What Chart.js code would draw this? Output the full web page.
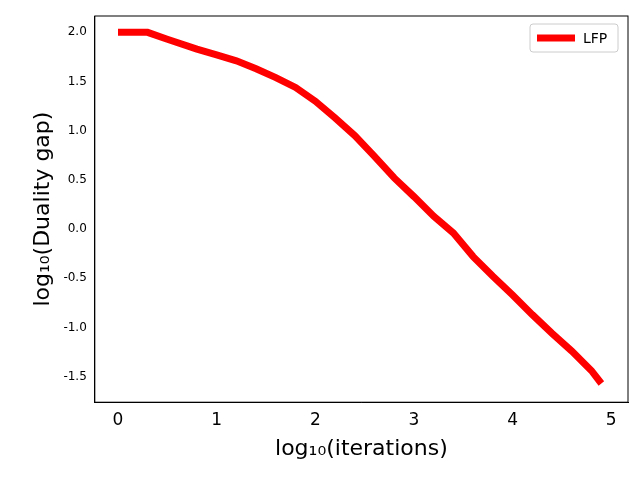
<!DOCTYPE html>
<html><head><meta charset="utf-8">
<script src="https://cdn.jsdelivr.net/npm/chart.js@4"></script>
<style>body{margin:0;background:#fff}#wrap{width:640px;height:480px}</style>
</head><body><div id="wrap"><canvas id="c"></canvas></div>
<script>
// log10(iterations) vs log10(duality gap)
const logIters = [0, 0.3, 0.5, 0.8, 1.0, 1.2, 1.4, 1.6, 1.8, 2.0, 2.2, 2.4, 2.6, 2.8, 3.0, 3.2, 3.4, 3.6, 3.8, 4.0, 4.2, 4.4, 4.6, 4.8, 4.9];
const logGap = [2.0, 2.0, 1.93, 1.83, 1.77, 1.71, 1.63, 1.54, 1.44, 1.30, 1.13, 0.95, 0.74, 0.52, 0.33, 0.13, -0.04, -0.28, -0.48, -0.67, -0.87, -1.06, -1.24, -1.44, -1.57];
const xTicks = [0, 1, 2, 3, 4, 5];
const yTicks = [-1.5, -1.0, -0.5, 0.0, 0.5, 1.0, 1.5, 2.0];

// axes box + legend in the upper right corner
const frame = {
  id: 'frame',
  afterDraw(chart) {
    const a = chart.chartArea, ctx = chart.ctx;
    ctx.save();
    ctx.strokeStyle = '#000';
    ctx.lineWidth = 1;
    ctx.strokeRect(a.left, a.top, a.right - a.left, a.bottom - a.top);
    const bx = a.right - 98, by = a.top + 8;
    ctx.fillStyle = 'rgba(255,255,255,0.8)';
    ctx.strokeStyle = '#ccc';
    ctx.beginPath();
    ctx.roundRect(bx, by, 88, 28, 3);
    ctx.fill();
    ctx.stroke();
    ctx.strokeStyle = 'red';
    ctx.lineWidth = 7;
    ctx.beginPath();
    ctx.moveTo(bx + 7, by + 14);
    ctx.lineTo(bx + 45, by + 14);
    ctx.stroke();
    ctx.fillStyle = '#000';
    ctx.font = '14px "DejaVu Sans"';
    ctx.textBaseline = 'middle';
    ctx.fillText(chart.data.datasets[0].label, bx + 53, by + 15);
    ctx.restore();
  }
};

new Chart(document.getElementById('c'), {
  type: 'scatter',
  data: {
    datasets: [{
      label: 'LFP',
      data: logIters.map((x, i) => ({x: x, y: logGap[i]})),
      showLine: true,
      borderColor: 'red',
      backgroundColor: 'red',
      borderWidth: 7,
      pointRadius: 0
    }]
  },
  options: {
    responsive: true,
    maintainAspectRatio: false,
    animation: false,
    layout: {padding: {top: 16, right: 12, left: 26, bottom: 14}},
    plugins: {
      legend: {display: false},
      tooltip: {enabled: false}
    },
    scales: {
      x: {
        type: 'linear', min: -0.235, max: 5.17,
        afterBuildTicks: s => { s.ticks = xTicks.map(v => ({value: v})); },
        ticks: {color: '#000', font: {family: 'DejaVu Sans', size: 17}, callback: v => String(v)},
        grid: {display: false, drawTicks: true, tickLength: 5},
        border: {color: '#000'},
        title: {display: true, text: 'log\u2081\u2080(iterations)', color: '#000', font: {family: 'DejaVu Sans', size: 22}, padding: {top: 2}}
      },
      y: {
        type: 'linear', min: -1.76, max: 2.166,
        afterBuildTicks: s => { s.ticks = yTicks.map(v => ({value: v})); },
        ticks: {color: '#000', font: {family: 'DejaVu Sans', size: 12}, callback: v => v.toFixed(1)},
        grid: {display: false, drawTicks: true, tickLength: 5},
        border: {color: '#000'},
        title: {display: true, text: 'log\u2081\u2080(Duality gap)', color: '#000', font: {family: 'DejaVu Sans', size: 22}}
      }
    }
  },
  plugins: [frame]
});
</script></body></html>
